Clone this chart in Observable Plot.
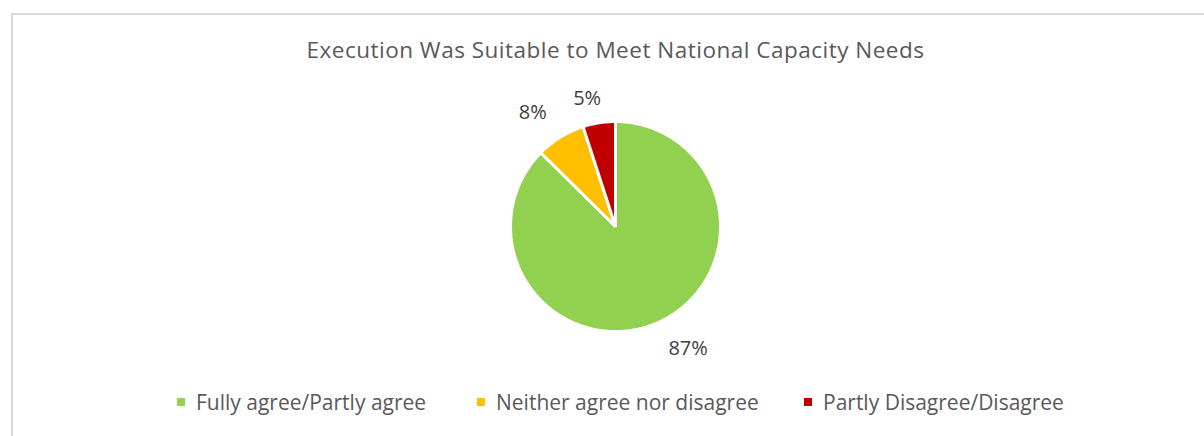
<!DOCTYPE html>
<html>
<head>
<meta charset="utf-8">
<script src="https://cdn.jsdelivr.net/npm/d3@7"></script>
<script src="https://cdn.jsdelivr.net/npm/@observablehq/plot@0.6"></script>
<style>
  html, body { margin: 0; padding: 0; background: #fff; width: 1204px; height: 436px; overflow: hidden; }
  body { position: relative; font-family: "Open Sans", sans-serif; color: #595959; }
  #frame { position: absolute; left: 11px; top: 13px; width: 1300px; height: 500px; border: 2px solid #d9d9d9; box-sizing: border-box; }
  #title { position: absolute; left: 0; width: 1231px; top: 34.5px; line-height: 30px; text-align: center; font-size: 22.5px; color: #595959; letter-spacing: 0.5px; white-space: nowrap; }
  #chart { position: absolute; left: 0; top: 0; }
  #legend { position: absolute; top: 0; left: 0; width: 1204px; height: 436px; }
  .txt { position: absolute; top: 387px; line-height: 30px; font-size: 21px; color: #595959; white-space: nowrap; }
  .sw { position: absolute; top: 398px; width: 8px; height: 8px; }
</style>
</head>
<body>
<div id="frame"></div>
<div id="title">Execution Was Suitable to Meet National Capacity Needs</div>
<div id="chart"></div>
<div id="legend"></div>
<script>
const categories = ["Fully agree/Partly agree", "Neither agree nor disagree", "Partly Disagree/Disagree"];
const values = [87.4, 7.6, 5.0];
const colors = ["#92d050", "#ffc000", "#c00000"];

const total = d3.sum(values);
const fmt = d3.format(".0%");
const slices = [];
let start = 0;
categories.forEach((c, i) => {
  const a0 = start, a1 = start + values[i] / total * 2 * Math.PI;
  slices.push({category: c, value: values[i], label: fmt(values[i] / total), a0, a1});
  start = a1;
});

// polygon points for each slice (angle measured clockwise from 12 o'clock)
const pts = [];
for (const s of slices) {
  pts.push({category: s.category, x: 0, y: 0});
  const n = Math.max(2, Math.ceil((s.a1 - s.a0) / (Math.PI / 180)));
  for (let k = 0; k <= n; k++) {
    const a = s.a0 + (s.a1 - s.a0) * k / n;
    pts.push({category: s.category, x: Math.sin(a), y: Math.cos(a)});
  }
}

// data labels placed outside the pie along each slice's mid angle
const nudgeX = [20, -11, -7], nudgeY = [-4, 2, 7];
const labelPts = slices.map((s, i) => {
  const m = (s.a0 + s.a1) / 2;
  return {label: s.label, x: 1.3 * Math.sin(m), y: 1.3 * Math.cos(m), i};
});

const chart = Plot.plot({
  width: 1204,
  height: 436,
  marginLeft: 510,
  marginRight: 484,
  marginTop: 121,
  marginBottom: 105,
  x: {domain: [-1, 1], axis: null},
  y: {domain: [-1, 1], axis: null},
  color: {domain: categories, range: colors},
  style: {background: "transparent", overflow: "visible"},
  marks: [
    Plot.line(pts, {x: "x", y: "y", z: "category", fill: "category", stroke: "white", strokeWidth: 3, strokeLinejoin: "miter", curve: "linear-closed"}),
    ...labelPts.map(d => Plot.text([d], {x: "x", y: "y", text: "label", dx: nudgeX[d.i], dy: nudgeY[d.i], fontSize: 20, fill: "#404040", fontFamily: "Open Sans"}))
  ]
});
document.getElementById("chart").appendChild(chart);

const legend = document.getElementById("legend");
const swX = [177, 477, 804];
categories.forEach((c, i) => {
  const s = document.createElement("div");
  s.className = "sw";
  s.style.left = swX[i] + "px";
  s.style.background = colors[i];
  legend.appendChild(s);
  const t = document.createElement("div");
  t.className = "txt";
  t.style.left = (swX[i] + 19) + "px";
  t.textContent = c;
  legend.appendChild(t);
});
</script>
</body>
</html>
